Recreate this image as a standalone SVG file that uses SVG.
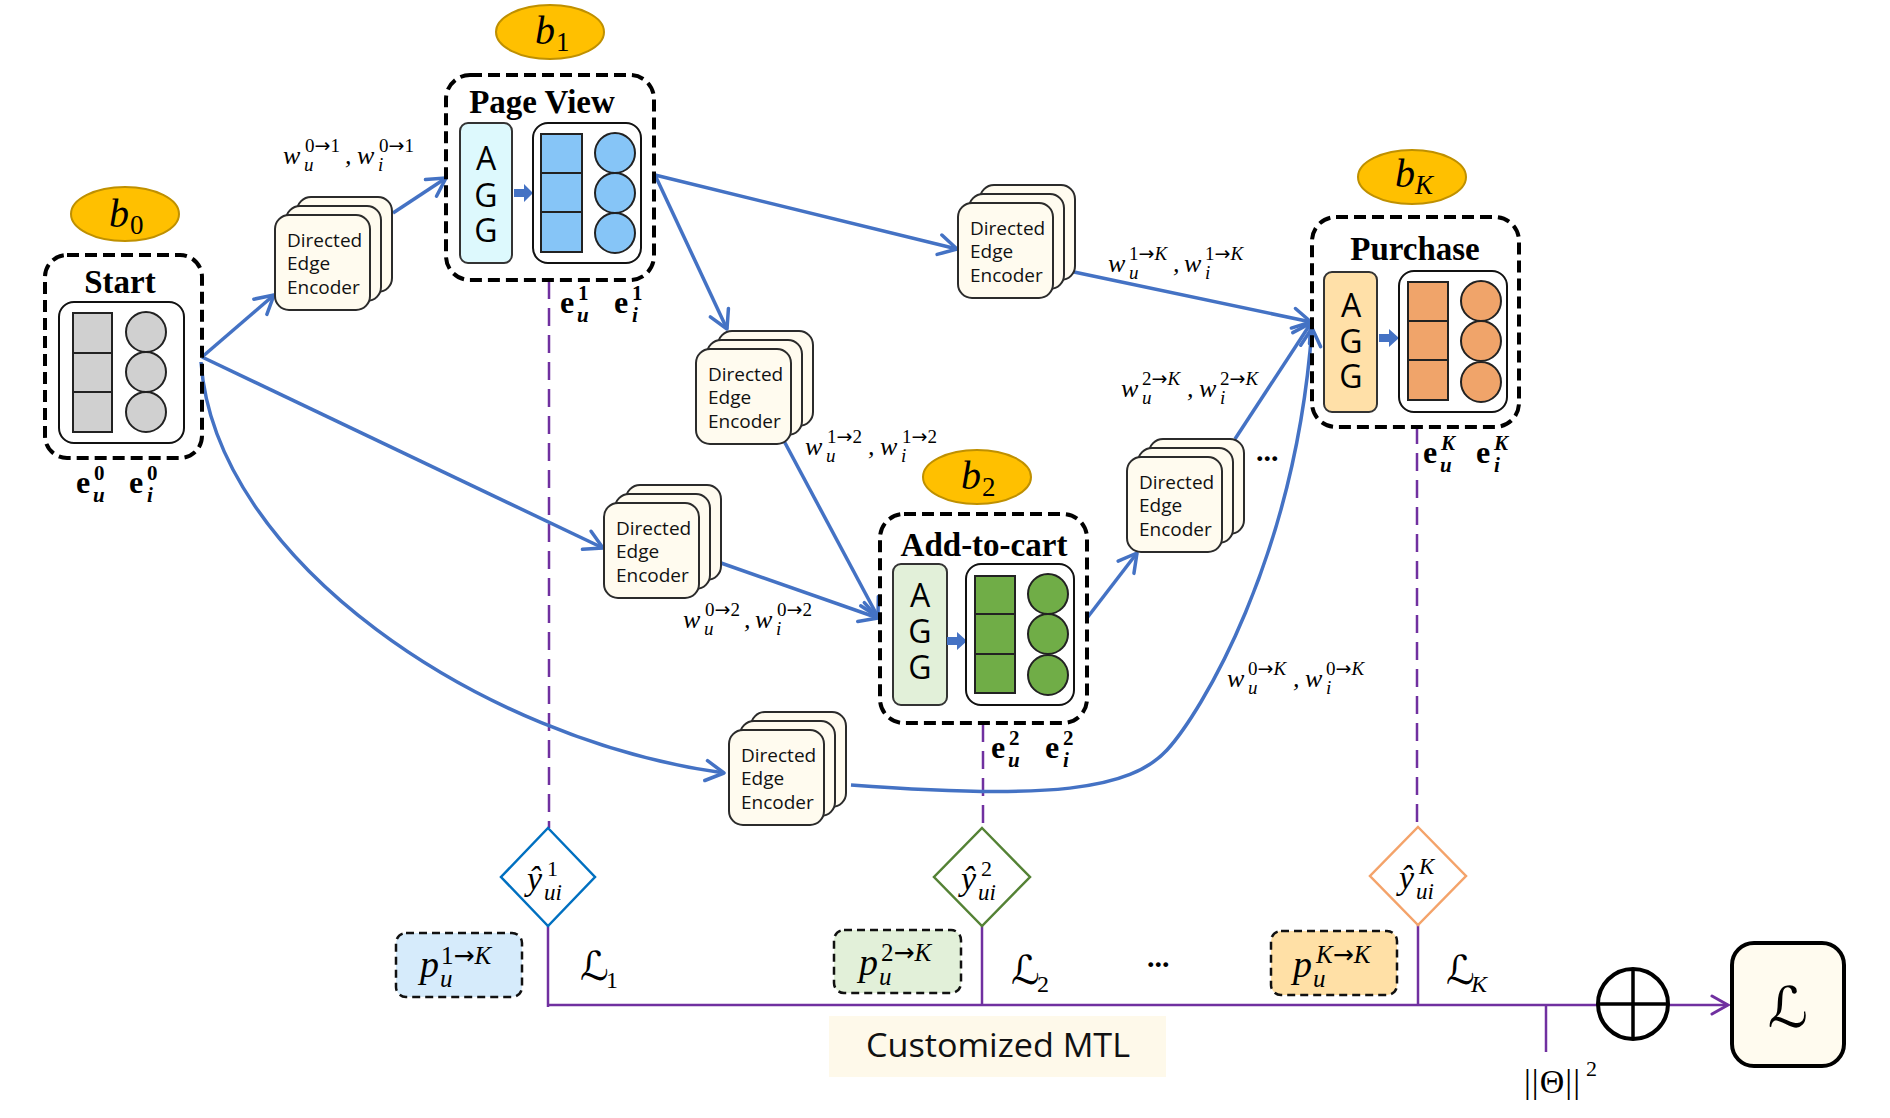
<svg xmlns="http://www.w3.org/2000/svg" width="1890" height="1118" viewBox="0 0 1890 1118">
<defs>
<style>
.enc{fill:#FFFBEF;stroke:#2b2b2b;stroke-width:2}
.et{font-family:"Open Sans","Noto Sans",sans-serif;font-size:19px;fill:#111}
.dash{fill:none;stroke:#000;stroke-width:4;stroke-dasharray:12 6}
.inner{fill:#fff;stroke:#111;stroke-width:2}
.title{font-family:"Liberation Serif",serif;font-weight:bold;font-size:33px;text-anchor:middle;fill:#000}
.agg{font-family:"Open Sans","Noto Sans",sans-serif;font-size:32px;text-anchor:middle;fill:#000}
.cell{stroke:#222;stroke-width:2}
.m{font-family:"Liberation Serif","DejaVu Serif",serif;font-style:italic;font-size:26px;fill:#000}
.mu{font-family:"Liberation Serif","DejaVu Serif",serif;font-size:19px;fill:#000}
.ms{font-family:"Liberation Serif","DejaVu Serif",serif;font-style:italic;font-size:19px;fill:#000}
.ar{font-family:"DejaVu Sans",sans-serif;font-style:normal}
.it{font-style:italic}
.eb{font-family:"Liberation Serif",serif;font-weight:bold;font-size:32px;fill:#000}
.ebs{font-family:"Liberation Serif",serif;font-weight:bold;font-size:21px;fill:#000}
.ebi{font-family:"Liberation Serif",serif;font-weight:bold;font-style:italic;font-size:21px;fill:#000}
.bl{fill:#FFC000;stroke:#BF9000;stroke-width:2}
.bt{font-family:"Liberation Serif",serif;font-style:italic;font-size:40px;fill:#000}
.bs{font-family:"Liberation Serif",serif;font-size:27px;fill:#000}
.bsi{font-family:"Liberation Serif",serif;font-style:italic;font-size:27px;fill:#000}
.conn{fill:none;stroke:#4472C4;stroke-width:3.5;marker-end:url(#arr)}
.pl{fill:none;stroke:#7030A0;stroke-width:2.5}
.pd{stroke-dasharray:18 9}
.dia{fill:#fff;stroke-width:2.5}
.pbox{stroke:#111;stroke-width:2.5;stroke-dasharray:8 5}
.scr{font-family:"DejaVu Serif","DejaVu Sans",serif;font-size:40px;fill:#000}
.mb{font-family:"Liberation Serif",serif;font-weight:bold;font-size:30px;fill:#000}
.yh{font-family:"Liberation Serif","DejaVu Serif",serif;font-style:italic;font-size:34px;fill:#000}
.ysup{font-family:"Liberation Serif","DejaVu Serif",serif;font-size:22px;fill:#000}
.ysub{font-family:"Liberation Serif","DejaVu Serif",serif;font-style:italic;font-size:23px;fill:#000}
.pp{font-family:"Liberation Serif","DejaVu Serif",serif;font-style:italic;font-size:38px;fill:#000}
.psup{font-family:"Liberation Serif","DejaVu Serif",serif;font-size:25px;fill:#000}
.psub{font-family:"Liberation Serif","DejaVu Serif",serif;font-style:italic;font-size:25px;fill:#000}
.lsub{font-family:"Liberation Serif","DejaVu Serif",serif;font-size:24px;fill:#000}
.big{font-family:"DejaVu Serif","DejaVu Sans",serif;font-size:56px;fill:#000;text-anchor:middle}
.rg{font-family:"Liberation Serif","DejaVu Serif",serif;fill:#000}
</style>
<marker id="arr" markerUnits="userSpaceOnUse" markerWidth="26" markerHeight="26" viewBox="0 0 26 26" refX="23" refY="13" orient="auto">
<path d="M5,3 L23,13 L5,23" fill="none" stroke="#4472C4" stroke-width="3.5" stroke-linecap="round" stroke-linejoin="round"/>
</marker>
<marker id="parr" markerUnits="userSpaceOnUse" markerWidth="24" markerHeight="24" viewBox="0 0 24 24" refX="21" refY="12" orient="auto">
<path d="M5,3 L21,12 L5,21" fill="none" stroke="#7030A0" stroke-width="3" stroke-linecap="round"/>
</marker>
<g id="encShape">
<rect class="enc" x="22" y="-18" width="95" height="95" rx="14"/>
<rect class="enc" x="11" y="-9" width="95" height="95" rx="14"/>
<rect class="enc" x="0" y="0" width="95" height="95" rx="14"/>
<text class="et" x="12" y="32">Directed</text>
<text class="et" x="12" y="55">Edge</text>
<text class="et" x="12" y="79">Encoder</text>
</g>
</defs>
<rect width="1890" height="1118" fill="#fff"/>

<g id="mtl-lines">
<line class="pl pd" x1="549" y1="281" x2="549" y2="828"/>
<line class="pl pd" x1="983" y1="724" x2="983" y2="828"/>
<line class="pl pd" x1="1417" y1="426" x2="1417" y2="827"/>
<line class="pl" x1="548" y1="926" x2="548" y2="1007"/>
<line class="pl" x1="982" y1="926" x2="982" y2="1005"/>
<line class="pl" x1="1418" y1="925" x2="1418" y2="1005"/>
<line class="pl" x1="548" y1="1005" x2="1728" y2="1005" marker-end="url(#parr)"/>
<line class="pl" x1="1546" y1="1005" x2="1546" y2="1052"/>
</g>

<g id="connectors">
<line class="conn" x1="202" y1="357" x2="274" y2="295"/>
<line class="conn" x1="393" y1="213" x2="446" y2="178"/>
<line class="conn" x1="202" y1="357" x2="603" y2="548"/>
<path class="conn" d="M201,362 C215,560 480,740 724,773"/>
<line class="conn" x1="655" y1="175" x2="957" y2="249"/>
<line class="conn" x1="655" y1="175" x2="727" y2="329"/>
<line class="conn" x1="1074" y1="272" x2="1311" y2="322"/>
<line class="conn" x1="784" y1="441" x2="878" y2="617"/>
<line class="conn" x1="721" y1="563" x2="878" y2="618"/>
<line class="conn" x1="1087" y1="618" x2="1137" y2="553"/>
<line class="conn" x1="1235" y1="439" x2="1311" y2="323"/>
<path class="conn" d="M851,785 C1050,800 1130,790 1167,750 C1200,714 1295,560 1312,328"/>
</g>

<g id="enc1"><use href="#encShape" transform="translate(275,215)"/></g>
<g id="enc3"><use href="#encShape" transform="translate(958,203)"/></g>
<g id="enc2"><use href="#encShape" transform="translate(696,349)"/></g>
<g id="enc02"><use href="#encShape" transform="translate(604,503)"/></g>
<g id="enc4"><use href="#encShape" transform="translate(1127,457)"/></g>
<g id="enc0K"><use href="#encShape" transform="translate(729,730)"/></g>

<g id="b0"><ellipse class="bl" cx="125" cy="214" rx="54" ry="27"/><text class="bt" x="109" y="227">b</text><text class="bs" x="130" y="234">0</text></g>
<g id="b1"><ellipse class="bl" cx="550" cy="32" rx="54" ry="27"/><text class="bt" x="535" y="44">b</text><text class="bs" x="556" y="51">1</text></g>
<g id="b2"><ellipse class="bl" cx="977" cy="477" rx="54" ry="27"/><text class="bt" x="961" y="489">b</text><text class="bs" x="982" y="496">2</text></g>
<g id="bK"><ellipse class="bl" cx="1412" cy="177" rx="54" ry="27"/><text class="bt" x="1395" y="187">b</text><text class="bsi" x="1415" y="194">K</text></g>

<g id="start">
<rect class="dash" x="45" y="255" width="157" height="203" rx="22"/>
<text class="title" x="120" y="293">Start</text>
<rect class="inner" x="59" y="302" width="125" height="141" rx="15"/>
<rect class="cell" x="73" y="313" width="39" height="40" fill="#D0D0D0"/>
<rect class="cell" x="73" y="353" width="39" height="39" fill="#D0D0D0"/>
<rect class="cell" x="73" y="392" width="39" height="40" fill="#D0D0D0"/>
<circle class="cell" cx="146" cy="332" r="20" fill="#D0D0D0"/>
<circle class="cell" cx="146" cy="372" r="20" fill="#D0D0D0"/>
<circle class="cell" cx="146" cy="412" r="20" fill="#D0D0D0"/>
</g>

<g id="pageview">
<rect class="dash" x="446" y="75" width="208" height="205" rx="24"/>
<text class="title" x="542" y="113">Page View</text>
<rect x="460" y="123" width="52" height="140" rx="8" fill="#DDF9FD" stroke="#333" stroke-width="2"/>
<text class="agg" x="486" y="170">A</text><text class="agg" x="486" y="207">G</text><text class="agg" x="486" y="242">G</text>
<path d="M514,189 H524 V184 L533,193 L524,202 V197 H514 Z" fill="#4472C4"/>
<rect class="inner" x="533" y="123" width="108" height="140" rx="15"/>
<rect class="cell" x="541" y="134" width="41" height="39" fill="#86C5F7"/>
<rect class="cell" x="541" y="173" width="41" height="39" fill="#86C5F7"/>
<rect class="cell" x="541" y="212" width="41" height="40" fill="#86C5F7"/>
<circle class="cell" cx="615" cy="153" r="20" fill="#86C5F7"/>
<circle class="cell" cx="615" cy="193" r="20" fill="#86C5F7"/>
<circle class="cell" cx="615" cy="233" r="20" fill="#86C5F7"/>
</g>

<g id="addtocart">
<rect class="dash" x="880" y="514" width="207" height="209" rx="24"/>
<text class="title" x="984" y="556">Add-to-cart</text>
<rect x="893" y="564" width="54" height="141" rx="8" fill="#E2F0D9" stroke="#333" stroke-width="2"/>
<text class="agg" x="920" y="607">A</text><text class="agg" x="920" y="643">G</text><text class="agg" x="920" y="679">G</text>
<path d="M947,637 H957 V632 L967,641 L957,650 V645 H947 Z" fill="#4472C4"/>
<rect class="inner" x="966" y="564" width="108" height="141" rx="15"/>
<rect class="cell" x="975" y="576" width="40" height="38" fill="#70AD47"/>
<rect class="cell" x="975" y="614" width="40" height="40" fill="#70AD47"/>
<rect class="cell" x="975" y="654" width="40" height="39" fill="#70AD47"/>
<circle class="cell" cx="1048" cy="594" r="20" fill="#70AD47"/>
<circle class="cell" cx="1048" cy="634" r="20" fill="#70AD47"/>
<circle class="cell" cx="1048" cy="675" r="20" fill="#70AD47"/>
</g>

<g id="purchase">
<rect class="dash" x="1312" y="217" width="207" height="210" rx="24"/>
<text class="title" x="1415" y="260">Purchase</text>
<rect x="1324" y="272" width="53" height="140" rx="8" fill="#FFE0A8" stroke="#333" stroke-width="2"/>
<text class="agg" x="1351" y="317">A</text><text class="agg" x="1351" y="353">G</text><text class="agg" x="1351" y="388">G</text>
<path d="M1379,334 H1389 V329 L1399,338 L1389,347 V342 H1379 Z" fill="#4472C4"/>
<rect class="inner" x="1399" y="271" width="108" height="141" rx="15"/>
<rect class="cell" x="1408" y="282" width="40" height="39" fill="#F0A46A"/>
<rect class="cell" x="1408" y="321" width="40" height="39" fill="#F0A46A"/>
<rect class="cell" x="1408" y="360" width="40" height="40" fill="#F0A46A"/>
<circle class="cell" cx="1481" cy="301" r="20" fill="#F0A46A"/>
<circle class="cell" cx="1481" cy="341" r="20" fill="#F0A46A"/>
<circle class="cell" cx="1481" cy="382" r="20" fill="#F0A46A"/>
</g>

<g id="emb-labels">
<g transform="translate(76,493)"><text class="eb">e</text><text class="ebs" x="18" y="-13">0</text><text class="ebi" x="17" y="9">u</text></g>
<g transform="translate(129,493)"><text class="eb">e</text><text class="ebs" x="18" y="-13">0</text><text class="ebi" x="18" y="9">i</text></g>
<g transform="translate(560,313)"><text class="eb">e</text><text class="ebs" x="18" y="-13">1</text><text class="ebi" x="17" y="9">u</text></g>
<g transform="translate(614,313)"><text class="eb">e</text><text class="ebs" x="18" y="-13">1</text><text class="ebi" x="18" y="9">i</text></g>
<g transform="translate(991,758)"><text class="eb">e</text><text class="ebs" x="18" y="-13">2</text><text class="ebi" x="17" y="9">u</text></g>
<g transform="translate(1045,758)"><text class="eb">e</text><text class="ebs" x="18" y="-13">2</text><text class="ebi" x="18" y="9">i</text></g>
<g transform="translate(1423,463)"><text class="eb">e</text><text class="ebi" x="18" y="-13">K</text><text class="ebi" x="17" y="9">u</text></g>
<g transform="translate(1476,463)"><text class="eb">e</text><text class="ebi" x="18" y="-13">K</text><text class="ebi" x="18" y="9">i</text></g>
</g>

<g id="w-labels">
<g transform="translate(283,164)"><text class="m">w</text><text class="ms" x="21" y="7">u</text><text class="mu" x="22" y="-12">0<tspan class="ar">→</tspan>1</text><text class="m" x="62">,</text><text class="m" x="74">w</text><text class="ms" x="95" y="7">i</text><text class="mu" x="96" y="-12">0<tspan class="ar">→</tspan>1</text></g>
<g transform="translate(1108,272)"><text class="m">w</text><text class="ms" x="21" y="7">u</text><text class="mu" x="21" y="-12">1<tspan class="ar">→</tspan><tspan class="it">K</tspan></text><text class="m" x="65">,</text><text class="m" x="76">w</text><text class="ms" x="97" y="7">i</text><text class="mu" x="97" y="-12">1<tspan class="ar">→</tspan><tspan class="it">K</tspan></text></g>
<g transform="translate(805,455)"><text class="m">w</text><text class="ms" x="21" y="7">u</text><text class="mu" x="22" y="-12">1<tspan class="ar">→</tspan>2</text><text class="m" x="63">,</text><text class="m" x="75">w</text><text class="ms" x="96" y="7">i</text><text class="mu" x="97" y="-12">1<tspan class="ar">→</tspan>2</text></g>
<g transform="translate(683,628)"><text class="m">w</text><text class="ms" x="21" y="7">u</text><text class="mu" x="22" y="-12">0<tspan class="ar">→</tspan>2</text><text class="m" x="61">,</text><text class="m" x="72">w</text><text class="ms" x="93" y="7">i</text><text class="mu" x="94" y="-12">0<tspan class="ar">→</tspan>2</text></g>
<g transform="translate(1121,397)"><text class="m">w</text><text class="ms" x="21" y="7">u</text><text class="mu" x="21" y="-12">2<tspan class="ar">→</tspan><tspan class="it">K</tspan></text><text class="m" x="66">,</text><text class="m" x="78">w</text><text class="ms" x="99" y="7">i</text><text class="mu" x="99" y="-12">2<tspan class="ar">→</tspan><tspan class="it">K</tspan></text></g>
<g transform="translate(1227,687)"><text class="m">w</text><text class="ms" x="21" y="7">u</text><text class="mu" x="21" y="-12">0<tspan class="ar">→</tspan><tspan class="it">K</tspan></text><text class="m" x="66">,</text><text class="m" x="78">w</text><text class="ms" x="99" y="7">i</text><text class="mu" x="99" y="-12">0<tspan class="ar">→</tspan><tspan class="it">K</tspan></text></g>
<text class="mb" x="1256" y="461">...</text>
</g>

<g id="pred1">
<polygon class="dia" points="548,828 595,877 548,926 501,877" stroke="#0070C0"/>
<text class="yh" x="527" y="890">ŷ</text><text class="ysup" x="547" y="876">1</text><text class="ysub" x="544" y="900">ui</text>
</g>
<g id="pred2">
<polygon class="dia" points="982,828 1030,877 982,926 934,877" stroke="#548235"/>
<text class="yh" x="961" y="890">ŷ</text><text class="ysup" x="981" y="876">2</text><text class="ysub" x="978" y="900">ui</text>
</g>
<g id="predK">
<polygon class="dia" points="1418,827 1466,876 1418,925 1370,876" stroke="#F4A36A"/>
<text class="yh" x="1399" y="889">ŷ</text><text class="ysub" x="1419" y="874">K</text><text class="ysub" x="1416" y="899">ui</text>
</g>

<g id="p1">
<rect class="pbox" x="396" y="933" width="126" height="64" rx="10" fill="#D6EBFB"/>
<text class="pp" x="420" y="977">p</text><text class="psup" x="441" y="964">1<tspan class="ar">→</tspan><tspan class="it">K</tspan></text><text class="psub" x="440" y="987">u</text>
</g>
<g id="p2">
<rect class="pbox" x="834" y="930" width="127" height="63" rx="10" fill="#E2F0D9"/>
<text class="pp" x="859" y="975">p</text><text class="psup" x="881" y="961">2<tspan class="ar">→</tspan><tspan class="it">K</tspan></text><text class="psub" x="879" y="985">u</text>
</g>
<g id="pK">
<rect class="pbox" x="1271" y="931" width="126" height="64" rx="10" fill="#FFE0A6"/>
<text class="pp" x="1293" y="977">p</text><text class="psub" x="1316" y="963">K<tspan class="ar">→</tspan>K</text><text class="psub" x="1313" y="987">u</text>
</g>

<g id="losses">
<text class="scr" x="580" y="980">ℒ</text><text class="lsub" x="606" y="988">1</text>
<text class="scr" x="1011" y="984">ℒ</text><text class="lsub" x="1037" y="992">2</text>
<text class="scr" x="1446" y="984">ℒ</text><text class="lsub it" x="1471" y="992">K</text>
<text class="mb" x="1147" y="967">...</text>
</g>

<g id="mtl">
<rect x="829" y="1016" width="337" height="61" fill="#FEF9EA"/>
<text x="866" y="1057" font-family="Open Sans, Noto Sans, sans-serif" font-size="33" textLength="264" lengthAdjust="spacingAndGlyphs" fill="#111">Customized MTL</text>
</g>

<g id="reg">
<text class="rg" x="1524" y="1093" font-size="34" textLength="56" lengthAdjust="spacing">||Θ||</text>
<text class="rg" x="1586" y="1076" font-size="22">2</text>
</g>

<g id="oplus">
<circle cx="1633" cy="1004" r="35" fill="#fff" stroke="#000" stroke-width="4"/>
<line x1="1598" y1="1004" x2="1668" y2="1004" stroke="#000" stroke-width="3.5"/>
<line x1="1633" y1="969" x2="1633" y2="1039" stroke="#000" stroke-width="3.5"/>
</g>

<g id="loss">
<rect x="1732" y="943" width="112" height="123" rx="22" fill="#FFFBEF" stroke="#000" stroke-width="4"/>
<text class="big" x="1788" y="1027">ℒ</text>
</g>
</svg>
